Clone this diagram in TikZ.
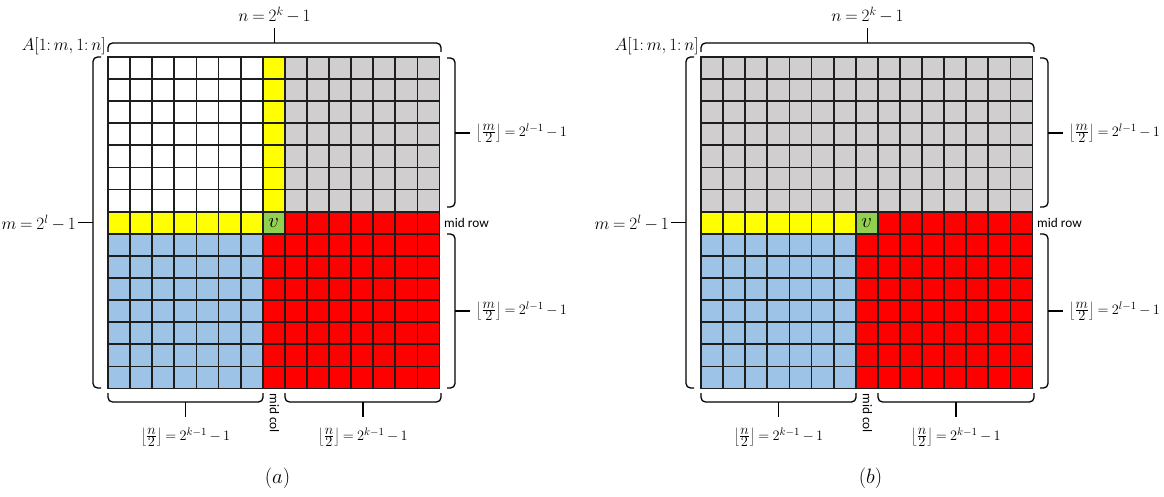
\documentclass[tikz,border=0pt]{standalone}
\usepackage{fontspec}
\newfontfamily\sidefont{Carlito}

\definecolor{cellgray}{HTML}{D0CECE}
\definecolor{cellblue}{HTML}{9DC3E6}
\definecolor{cellred}{HTML}{FF0000}
\definecolor{cellyellow}{HTML}{FFFF00}
\definecolor{cellgreen}{HTML}{92D050}
\definecolor{gridink}{HTML}{1E1E1E}

\newcommand\cellsize{22.1}

% half-size formula: floor of a fraction
\newcommand\halfof[2]{\left\lfloor\frac{\textstyle #1}{\textstyle 2}\right\rfloor = 2^{#2-1} - 1}

% fill a block of cells: colour, first col, first row, last col, last row
\newcommand\cellblock[5]{%
  \fill[#1] ({\cellsize*#2},{\cellsize*#3}) rectangle ({\cellsize*(#4+1)},{\cellsize*(#5+1)});}

% one 15x15 matrix with its braces and labels
% #1 x-shift, #2 colouring (1 or 2), #3 caption letter, #4 name prefix
\newcommand\matrixpanel[4]{%
\begin{scope}[shift={(#1,0)}]
  \begin{scope}[shift={(108,57)}]
    \ifnum#2=1
      \cellblock{cellyellow}{7}{0}{7}{6}
      \cellblock{cellgray}{8}{0}{14}{6}
    \else
      \cellblock{cellgray}{0}{0}{14}{6}
    \fi
    \cellblock{cellyellow}{0}{7}{6}{7}
    \cellblock{cellred}{8}{7}{14}{7}
    \cellblock{cellred}{7}{8}{14}{14}
    \cellblock{cellblue}{0}{8}{6}{14}
    \node[vcell] (#4v) at ({7.5*\cellsize},{7.5*\cellsize}) {$v$};
    \foreach \i in {0,...,15} {
      \draw[gridline] ({\cellsize*\i},0) -- ({\cellsize*\i},{15*\cellsize});
      \draw[gridline] (0,{\cellsize*\i}) -- ({15*\cellsize},{\cellsize*\i});
    }
  \end{scope}
  % top brace over the columns
  \draw[bracepath] (108,52) -- (108,43) -- (441,43) -- (441,52);
  \draw[bracetip] (274.5,43) -- (274.5,28);
  \node[mathlabel] (#4n) at (274.5,15) {$n = 2^k - 1$};
  \node[mathlabel, anchor=east] (#4A) at (106,46) {$A[1\colon m, 1\colon n]$};
  % left brace over all rows
  \draw[bracepath] (101,57) -- (93,57) -- (93,388) -- (101,388);
  \draw[bracetip] (93,222.75) -- (78,222.75);
  \node[mathlabel, anchor=east] (#4m) at (76,222.75) {$m = 2^l - 1$};
  % right braces over the upper and lower halves
  \draw[bracepath] (447,58) -- (455,58) -- (455,207) -- (447,207);
  \draw[bracetip] (455,133) -- (470,133);
  \node[fraclabel, anchor=west] (#4up) at (476,133) {$\halfof{m}{l}$};
  \draw[bracepath] (447,234) -- (455,234) -- (455,388) -- (447,388);
  \draw[bracetip] (455,311) -- (470,311);
  \node[fraclabel, anchor=west] (#4lo) at (476,311) {$\halfof{m}{l}$};
  \node[textlabel, anchor=west] (#4row) at (444,222.75) {mid row};
  % bottom braces under the left and right halves
  \draw[bracepath] (108,393) -- (108,402) -- (263,402) -- (263,393);
  \draw[bracetip] (185.5,402) -- (185.5,417);
  \node[fraclabel] (#4left) at (185.5,437) {$\halfof{n}{k}$};
  \draw[bracepath] (285,393) -- (285,402) -- (441,402) -- (441,393);
  \draw[bracetip] (363,402) -- (363,417);
  \node[fraclabel] (#4right) at (363,437) {$\halfof{n}{k}$};
  \node[textlabel, rotate=-90] (#4col) at (274.5,413) {mid col};
  \node[caption] (#4cap) at (277.5,478) {$(#3)$};
\end{scope}}

\begin{document}
\thickmuskip=4mu plus 2mu
\medmuskip=3mu plus 1mu
\begin{tikzpicture}[x=1pt, y=-1pt,
  mathlabel/.style={inner sep=0pt, font=\fontsize{17.5}{20}\selectfont},
  fraclabel/.style={inner sep=0pt, font=\fontsize{15.5}{18}\selectfont},
  textlabel/.style={inner sep=0pt, font=\sidefont\fontsize{13.3}{16}\selectfont},
  bracepath/.style={draw=black, line width=1.3pt, rounded corners=4.5pt},
  bracetip/.style={draw=black, line width=1.3pt},
  gridline/.style={draw=gridink, line width=1.8pt, line cap=rect},
  vcell/.style={fill=cellgreen, minimum size=22.1pt, inner sep=0pt,
    font=\fontsize{20}{22}\selectfont},
  caption/.style={inner sep=0pt, font=\fontsize{22}{26}\selectfont}]
\useasboundingbox (0,0) rectangle (1164,497);
\fill[white] (0,0) rectangle (1164,497);
\matrixpanel{0}{1}{a}{pa}
\matrixpanel{593}{2}{b}{pb}
\end{tikzpicture}
\end{document}
